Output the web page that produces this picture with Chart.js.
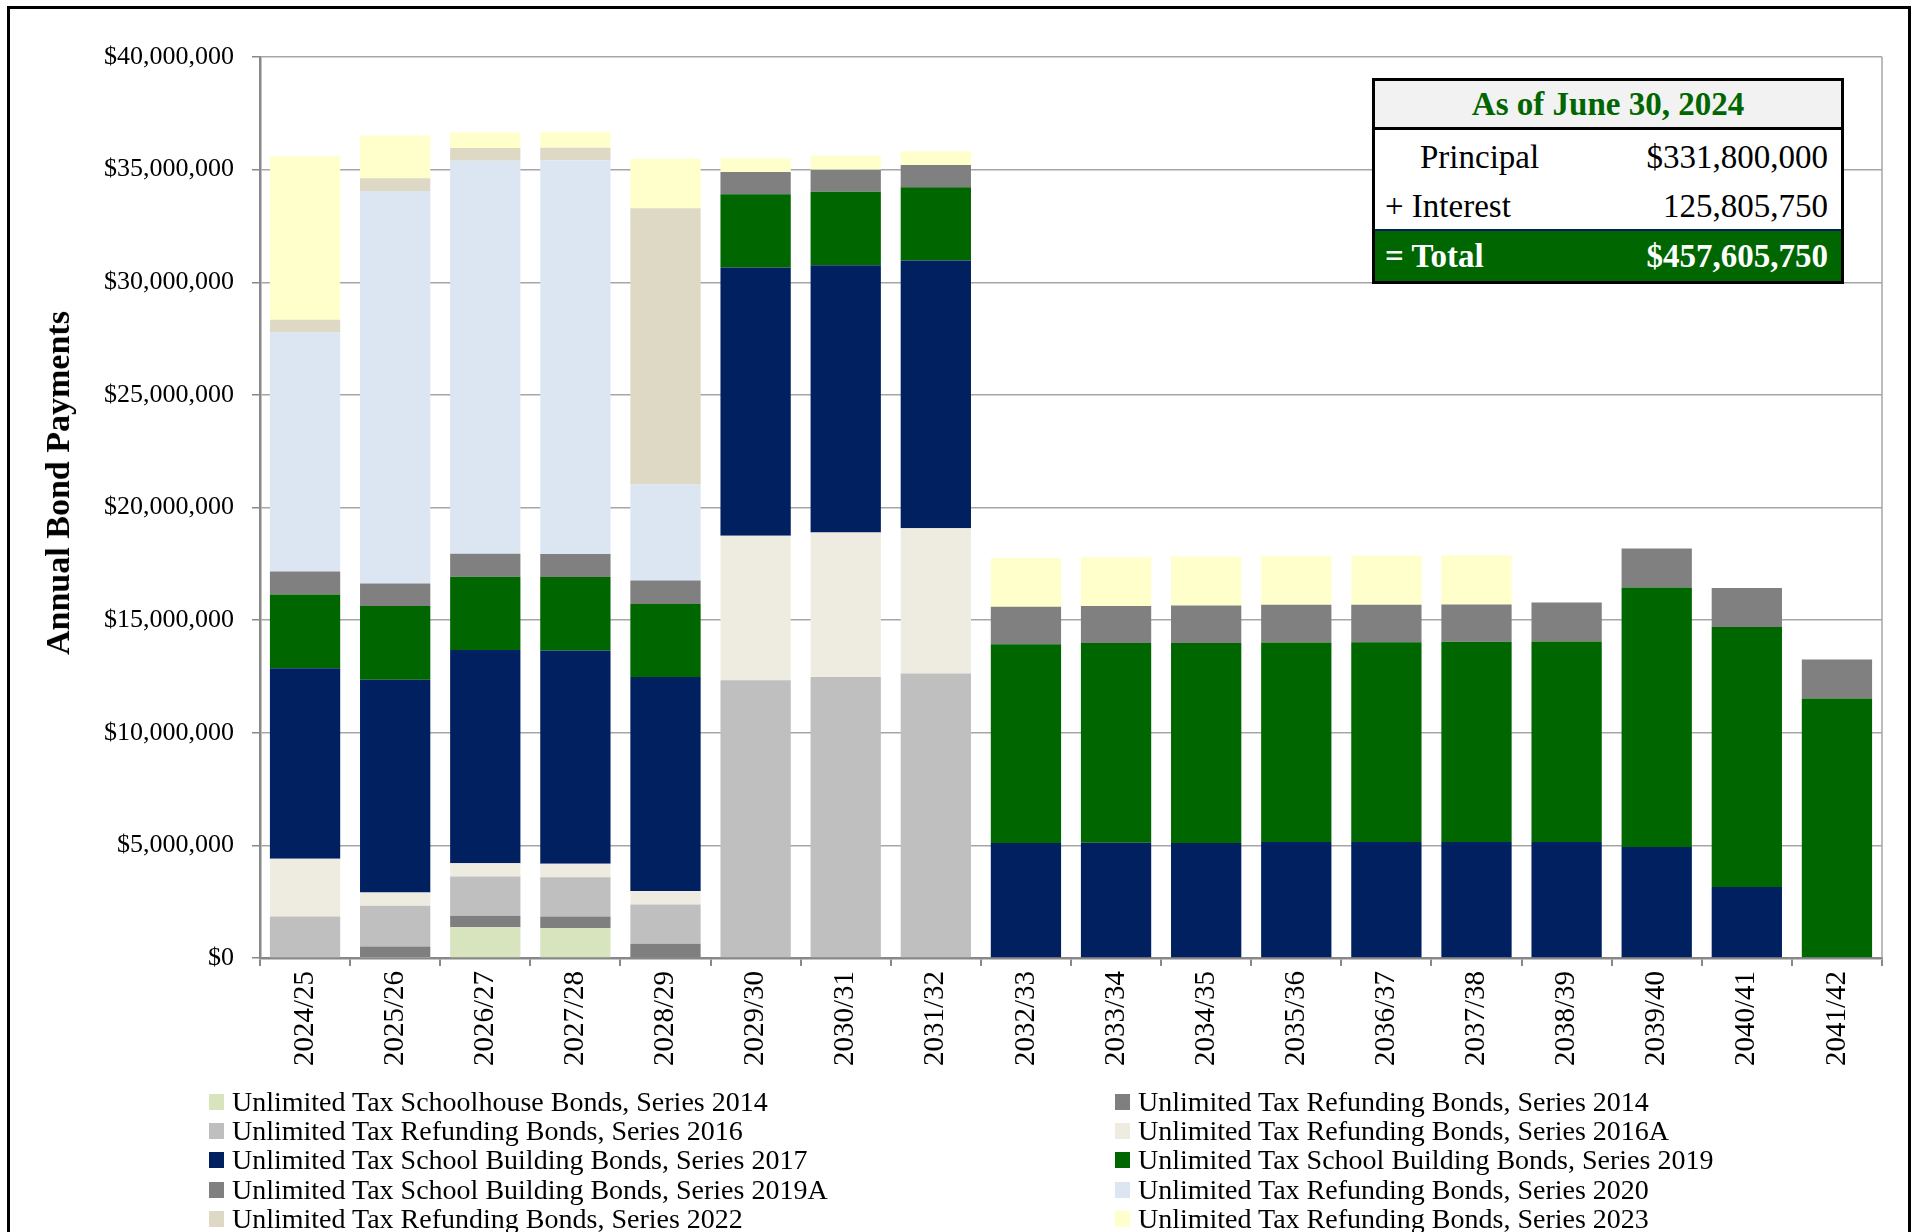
<!DOCTYPE html>
<html>
<head>
<meta charset="utf-8">
<script src="https://cdn.jsdelivr.net/npm/chart.js@4.4.1/dist/chart.umd.min.js"></script>
<style>
  html, body { margin: 0; padding: 0; background: #fff; overflow: hidden; }
  body { width: 1912px; height: 1232px; position: relative; font-family: "Liberation Serif", "Times New Roman", serif; }
  #frame { position: absolute; left: 7px; top: 6px; width: 1904px; height: 1300px; border: 3px solid #000; box-sizing: border-box; }
  #chartCanvas { position: absolute; left: 0; top: 0; }
  #ytitle { position: absolute; left: 58px; top: 483px; transform: translate(-50%, -50%) rotate(-90deg); white-space: nowrap; font-weight: bold; font-size: 34px; color: #000; }
  #legend { position: absolute; left: 209px; top: 1087px; display: grid; grid-template-columns: 906px 700px; }
  .lg-item { display: flex; align-items: center; height: 29.3px; font-size: 28px; color: #000; white-space: nowrap; }
  .lg-box { width: 15px; height: 16px; margin-right: 8px; flex: none; }
  #summary { position: absolute; left: 1372px; top: 78px; width: 472px; border: 3px solid #000; box-sizing: border-box; background: #fff; font-size: 33px; }
  #summary .hdr { height: 46px; line-height: 46px; background: #F2F2F2; border-bottom: 3px solid #000; text-align: center; color: #006600; font-weight: bold; }
  #summary .row { display: flex; justify-content: space-between; padding-right: 13px; }
  #summary .r1 { height: 54px; line-height: 54px; padding-left: 45px; }
  #summary .r2 { height: 45px; line-height: 45px; padding-left: 10px; border-bottom: 2px solid #002060; }
  #summary .r3 { height: 50px; line-height: 50px; padding-left: 10px; background: #006600; color: #fff; font-weight: bold; }
</style>
</head>
<body>
<div id="frame"></div>
<canvas id="chartCanvas" width="1912" height="1232"></canvas>
<div id="ytitle">Annual Bond Payments</div>
<div id="summary"></div>
<div id="legend"></div>
<script>
// ---- Data ----
const categories = ['2024/25','2025/26','2026/27','2027/28','2028/29','2029/30','2030/31','2031/32','2032/33','2033/34','2034/35','2035/36','2036/37','2037/38','2038/39','2039/40','2040/41','2041/42'];

const seriesNames = [
  'Unlimited Tax Schoolhouse Bonds, Series 2014',
  'Unlimited Tax Refunding Bonds, Series 2014',
  'Unlimited Tax Refunding Bonds, Series 2016',
  'Unlimited Tax Refunding Bonds, Series 2016A',
  'Unlimited Tax School Building Bonds, Series 2017',
  'Unlimited Tax School Building Bonds, Series 2019',
  'Unlimited Tax School Building Bonds, Series 2019A',
  'Unlimited Tax Refunding Bonds, Series 2020',
  'Unlimited Tax Refunding Bonds, Series 2022',
  'Unlimited Tax Refunding Bonds, Series 2023'
];

const schoolhouse2014 = [45000, 45000, 1365000, 1330000, 0, 0, 0, 0, 0, 0, 0, 0, 0, 0, 0, 0, 0, 0];
const refunding2014   = [0, 470000, 510000, 510000, 630000, 0, 0, 0, 0, 0, 0, 0, 0, 0, 0, 0, 0, 0];
const refunding2016   = [1800000, 1800000, 1740000, 1740000, 1750000, 12330000, 12480000, 12630000, 0, 0, 0, 0, 0, 0, 0, 0, 0, 0];
const refunding2016A  = [2560000, 590000, 590000, 600000, 590000, 6420000, 6410000, 6450000, 0, 0, 0, 0, 0, 0, 0, 0, 0, 0];
const building2017    = [8460000, 9450000, 9470000, 9470000, 9500000, 11910000, 11860000, 11890000, 5100000, 5120000, 5100000, 5150000, 5150000, 5150000, 5150000, 4930000, 3150000, 0];
const building2019    = [3270000, 3270000, 3250000, 3270000, 3250000, 3250000, 3270000, 3250000, 8830000, 8860000, 8880000, 8860000, 8870000, 8890000, 8900000, 11520000, 11540000, 11520000];
const building2019A   = [1020000, 1000000, 1020000, 1020000, 1040000, 980000, 970000, 980000, 1660000, 1650000, 1670000, 1670000, 1660000, 1650000, 1730000, 1730000, 1740000, 1730000];
const refunding2020   = [10610000, 17430000, 17450000, 17480000, 4260000, 0, 0, 0, 0, 0, 0, 0, 0, 0, 0, 0, 0, 0];
const refunding2022   = [570000, 560000, 570000, 550000, 12270000, 0, 0, 0, 0, 0, 0, 0, 0, 0, 0, 0, 0, 0];
const refunding2023   = [7260000, 1900000, 680000, 700000, 2190000, 620000, 640000, 620000, 2170000, 2160000, 2170000, 2170000, 2190000, 2190000, 0, 0, 0, 0];

const seriesColors = ['#D7E4BD', '#7F7F7F', '#BFBFBF', '#EEECE1', '#002060', '#006600', '#808080', '#DCE6F2', '#DDD9C4', '#FFFFCC'];

const yTickValues = [0, 5000000, 10000000, 15000000, 20000000, 25000000, 30000000, 35000000, 40000000];

const summaryTitle = 'As of June 30, 2024';
const summaryLabels = ['Principal', '+ Interest', '= Total'];
const summaryValues = ['$331,800,000', '125,805,750', '$457,605,750'];

// ---- Build ----
const seriesValues = [schoolhouse2014, refunding2014, refunding2016, refunding2016A, building2017, building2019, building2019A, refunding2020, refunding2022, refunding2023];

const datasets = seriesNames.map((name, i) => ({
  label: name,
  data: seriesValues[i],
  backgroundColor: seriesColors[i],
  borderWidth: 0,
  barPercentage: 0.78,
  categoryPercentage: 1.0
}));

const FONT = '"Liberation Serif", "Times New Roman", serif';

const plotBorder = {
  id: 'plotBorder',
  beforeDatasetsDraw(chart) {
    const {ctx, chartArea} = chart;
    ctx.save();
    ctx.strokeStyle = '#A6A6A6';
    ctx.lineWidth = 1.5;
    ctx.beginPath();
    ctx.moveTo(chartArea.right, chartArea.top);
    ctx.lineTo(chartArea.right, chartArea.bottom);
    ctx.stroke();
    ctx.restore();
  }
};

const fmt = v => '$' + v.toLocaleString('en-US');

const chart = new Chart(document.getElementById('chartCanvas'), {
  type: 'bar',
  data: { labels: categories, datasets },
  plugins: [plotBorder],
  options: {
    responsive: false,
    devicePixelRatio: 1,
    animation: false,
    layout: { padding: { left: 0, top: 57, right: 30, bottom: 0 } },
    plugins: { legend: { display: false }, tooltip: { enabled: false } },
    scales: {
      x: {
        stacked: true,
        afterFit: s => { s.height = 274; },
        grid: { drawOnChartArea: false, drawTicks: true, tickLength: 8, color: '#888888', lineWidth: 2, offset: true },
        border: { color: '#888888', width: 2.5 },
        ticks: { autoSkip: false, minRotation: 90, maxRotation: 90, padding: 5, color: '#000', font: { family: FONT, size: 29 } }
      },
      y: {
        stacked: true,
        min: 0,
        max: 40000000,
        afterFit: s => { s.width = 260; },
        afterBuildTicks: s => { s.ticks = yTickValues.map(v => ({ value: v })); },
        grid: { color: '#A6A6A6', lineWidth: 1.5, tickColor: '#888888', tickLength: 8 },
        border: { color: '#888888', width: 2.5 },
        ticks: { padding: 18, color: '#000', font: { family: FONT, size: 26 }, callback: v => fmt(v) }
      }
    }
  }
});

// Legend from chart datasets
const legendEl = document.getElementById('legend');
chart.data.datasets.forEach(ds => {
  const item = document.createElement('div');
  item.className = 'lg-item';
  const box = document.createElement('span');
  box.className = 'lg-box';
  box.style.background = ds.backgroundColor;
  const txt = document.createElement('span');
  txt.textContent = ds.label;
  item.appendChild(box);
  item.appendChild(txt);
  legendEl.appendChild(item);
});

// Summary table
const sum = document.getElementById('summary');
const hdr = document.createElement('div');
hdr.className = 'hdr';
hdr.textContent = summaryTitle;
sum.appendChild(hdr);
summaryLabels.forEach((lab, i) => {
  const r = document.createElement('div');
  r.className = 'row r' + (i + 1);
  const a = document.createElement('span'); a.textContent = lab;
  const b = document.createElement('span'); b.textContent = summaryValues[i];
  r.appendChild(a); r.appendChild(b);
  sum.appendChild(r);
});
</script>
</body>
</html>
